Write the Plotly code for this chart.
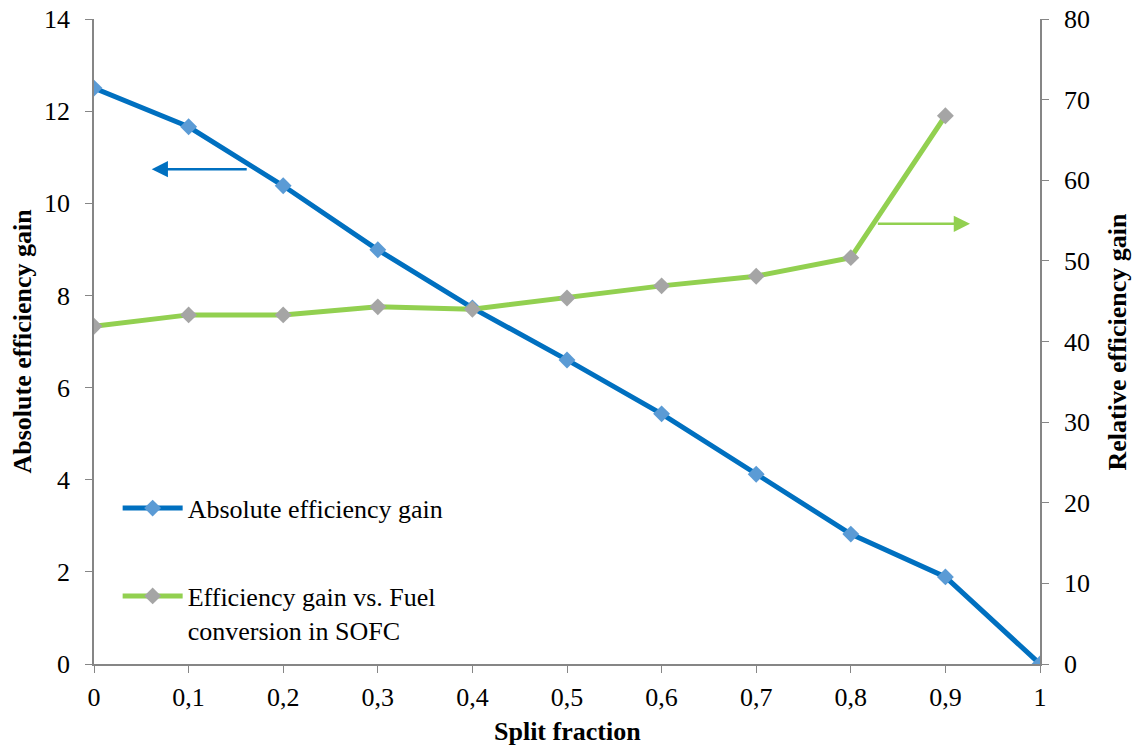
import plotly.graph_objects as go

split_fraction = [0, 0.1, 0.2, 0.3, 0.4, 0.5, 0.6, 0.7, 0.8, 0.9, 1.0]
absolute_gain = [12.50, 11.66, 10.38, 8.99, 7.73, 6.60, 5.43, 4.12, 2.82, 1.89, 0.0]
split_fraction_rel = [0, 0.1, 0.2, 0.3, 0.4, 0.5, 0.6, 0.7, 0.8, 0.9]
relative_gain = [41.9, 43.3, 43.3, 44.3, 44.0, 45.4, 46.9, 48.1, 50.4, 68.0]

x_tick_vals = [0, 0.1, 0.2, 0.3, 0.4, 0.5, 0.6, 0.7, 0.8, 0.9, 1.0]
x_tick_text = ["0", "0,1", "0,2", "0,3", "0,4", "0,5", "0,6", "0,7", "0,8", "0,9", "1"]

FONT = "Liberation Serif, Times New Roman, serif"
FS = 26
AXIS_COLOR = "#868686"

fig = go.Figure()
fig.add_trace(go.Scatter(
    x=split_fraction, y=absolute_gain, name="Absolute efficiency gain",
    mode="lines+markers", legendgroup="a",
    line=dict(color="#0070C0", width=5),
    marker=dict(symbol="diamond", size=13, color="#5B9BD5"),
    yaxis="y"))
fig.add_trace(go.Scatter(
    x=split_fraction_rel, y=relative_gain,
    name="Efficiency gain vs. Fuel<br>conversion in SOFC",
    mode="lines+markers", legendgroup="b",
    line=dict(color="#92D050", width=5),
    marker=dict(symbol="diamond", size=13, color="#A5A5A5"),
    yaxis="y2"))

# direction arrows
fig.add_annotation(x=0.061, y=10.74, ax=0.163, ay=10.74, xref="x", yref="y",
                   axref="x", ayref="y", text="", showarrow=True,
                   arrowhead=2, arrowsize=1.3, arrowwidth=2.5, arrowcolor="#0070C0")
fig.add_annotation(x=0.926, y=54.6, ax=0.827, ay=54.6, xref="x", yref="y2",
                   axref="x", ayref="y2", text="", showarrow=True,
                   arrowhead=2, arrowsize=1.3, arrowwidth=2.5, arrowcolor="#92D050")

# axis titles
fig.add_annotation(x=0.5, y=0, xref="paper", yref="paper", yshift=-67,
                   xanchor="center", yanchor="middle",
                   text="<b>Split fraction</b>", showarrow=False,
                   font=dict(family=FONT, size=FS, color="black"))
fig.add_annotation(x=0, y=0.5, xref="paper", yref="paper", xshift=-72, textangle=-90,
                   xanchor="center", yanchor="middle",
                   text="<b>Absolute efficiency gain</b>", showarrow=False,
                   font=dict(family=FONT, size=FS, color="black"))
fig.add_annotation(x=1, y=0.5, xref="paper", yref="paper", xshift=77, textangle=-90,
                   xanchor="center", yanchor="middle",
                   text="<b>Relative efficiency gain</b>", showarrow=False,
                   font=dict(family=FONT, size=FS, color="black"))

axis_common = dict(showgrid=False, zeroline=False, showline=True, linecolor=AXIS_COLOR,
                   linewidth=1.5, ticks="outside", ticklen=7, tickcolor=AXIS_COLOR,
                   tickfont=dict(family=FONT, size=FS, color="black"), automargin=False)

fig.update_layout(
    width=1134, height=748,
    margin=dict(l=94, r=94, t=19, b=84),
    paper_bgcolor="white", plot_bgcolor="white",
    font=dict(family=FONT, size=FS, color="black"),
    showlegend=True,
    legend=dict(x=0.025, y=0.278, xanchor="left", yanchor="top", valign="top",
                bgcolor="rgba(0,0,0,0)", itemwidth=60, tracegroupgap=51,
                font=dict(family=FONT, size=FS, color="black")),
    xaxis=dict(range=[0, 1], tickmode="array", tickvals=x_tick_vals, ticktext=x_tick_text,
               ticklabelstandoff=2, **axis_common),
    yaxis=dict(range=[0, 14], dtick=2, ticklabelstandoff=10, **axis_common),
    yaxis2=dict(range=[0, 80], dtick=10, overlaying="y", side="right",
                ticklabelstandoff=10, **axis_common),
)

fig.write_html("out.html")
